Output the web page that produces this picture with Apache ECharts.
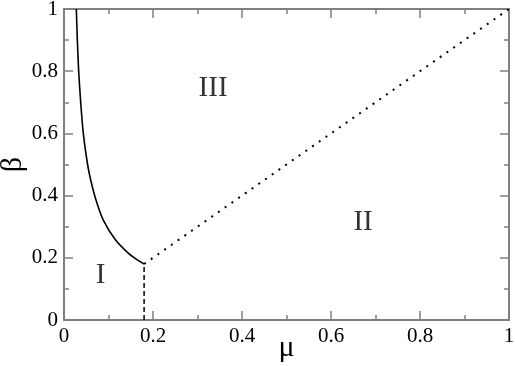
<!DOCTYPE html>
<html>
<head>
<meta charset="utf-8">
<script src="https://cdn.jsdelivr.net/npm/echarts@6/dist/echarts.min.js"></script>
<style>
  html, body { margin: 0; padding: 0; background: #fff; }
  #main { width: 515px; height: 366px; }
</style>
</head>
<body>
<div id="main"></div>
<script>
// boundary between region I and III (solid)
var curveMu   = [0.0277, 0.030, 0.033, 0.0375, 0.0434, 0.053, 0.060, 0.071, 0.088, 0.116, 0.145, 0.163, 0.180];
var curveBeta = [1.000, 0.900, 0.800, 0.700, 0.600, 0.500, 0.450, 0.390, 0.322, 0.257, 0.214, 0.195, 0.180];
// boundary between I and II (dashed) and II and III (dotted)
var dashedMu   = [0.18, 0.18];
var dashedBeta = [0.00, 0.18];
var dottedMu   = [0.18, 1.00];
var dottedBeta = [0.18, 1.00];
// region names
var regionNames = ['I', 'II', 'III'];
var regionMu    = [0.082, 0.672, 0.335];
var regionBeta  = [0.143, 0.315, 0.746];

function pairs(xs, ys) {
  return xs.map(function (x, i) { return [x, ys[i]]; });
}

var font = '"Liberation Serif", "Times New Roman", serif';
var axisGrey = '#808080';

function makeAxis(pos, showLabel, name) {
  return {
    type: 'value',
    position: pos,
    min: 0,
    max: 1,
    interval: 0.2,
    name: name || '',
    nameLocation: 'middle',
    nameGap: pos === 'left' ? 36 : 13,
    nameMoveOverlap: false,
    nameTextStyle: { fontFamily: font, fontSize: 30, color: '#000' },
    axisLine: { show: true, onZero: false, lineStyle: { color: axisGrey, width: 2 } },
    axisTick: { show: true, inside: true, length: 9, lineStyle: { color: axisGrey, width: 1.5 } },
    minorTick: { show: true, splitNumber: 2, length: 5, lineStyle: { color: axisGrey, width: 1.5 } },
    axisLabel: { show: showLabel, fontFamily: font, fontSize: 21, color: '#000', margin: 6 },
    splitLine: { show: false },
    minorSplitLine: { show: false }
  };
}

var myChart = echarts.init(document.getElementById('main'));
var option = {
  animation: false,
  backgroundColor: '#fff',
  grid: { left: 64, right: 6, top: 9, bottom: 46, containLabel: false, outerBoundsMode: 'none' },
  xAxis: [makeAxis('bottom', true, 'μ'), makeAxis('top', false)],
  yAxis: [makeAxis('left', true, 'β'), makeAxis('right', false)],
  series: [
    {
      type: 'line',
      data: pairs(curveMu, curveBeta),
      smooth: 0.25,
      symbol: 'none',
      lineStyle: { color: '#000', width: 1.6 }
    },
    {
      type: 'line',
      data: pairs(dashedMu, dashedBeta),
      symbol: 'none',
      lineStyle: { color: '#000', width: 1.5, type: [5, 3] }
    },
    {
      type: 'line',
      data: pairs(dottedMu, dottedBeta),
      symbol: 'none',
      lineStyle: { color: '#000', width: 2, type: [2, 6.2] }
    },
    {
      type: 'scatter',
      symbolSize: 0,
      data: regionNames.map(function (n, i) { return [regionMu[i], regionBeta[i], n]; }),
      label: {
        show: true,
        position: 'inside',
        formatter: function (p) { return p.value[2]; },
        fontFamily: font,
        fontSize: 29,
        color: '#000'
      }
    }
  ]
};
myChart.setOption(option);
</script>
</body>
</html>
